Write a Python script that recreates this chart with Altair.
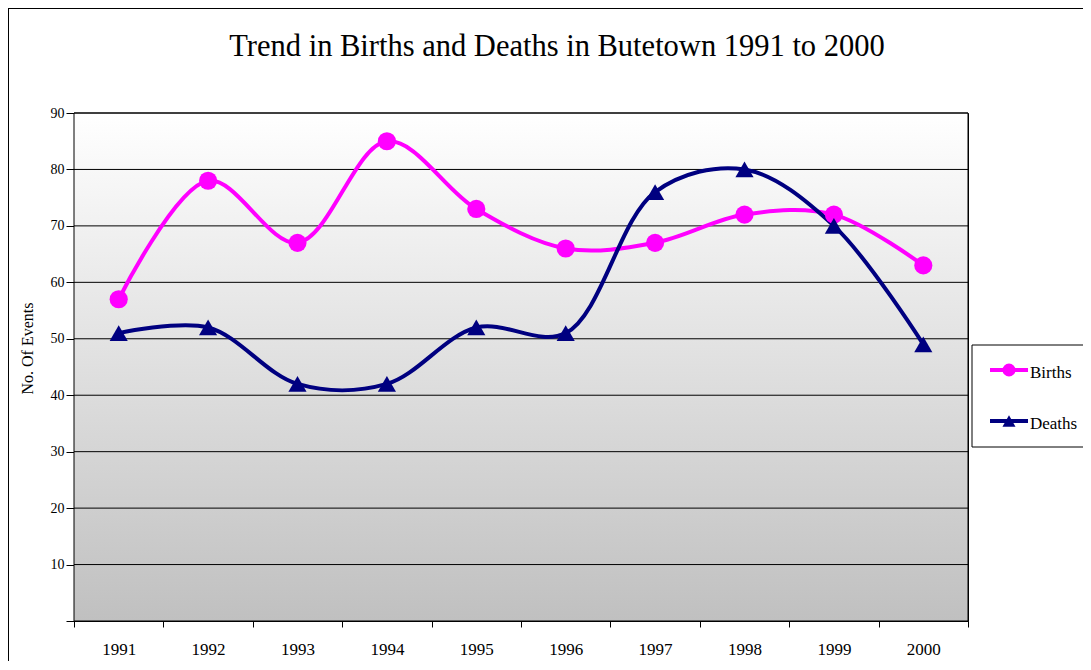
import altair as alt
import pandas as pd

# ---- data ----
years = ["1991", "1992", "1993", "1994", "1995", "1996", "1997", "1998", "1999", "2000"]
births = [57, 78, 67, 85, 73, 66, 67, 72, 72, 63]
deaths = [51, 52, 42, 42, 52, 51, 76, 80, 70, 49]
series_names = ["Births", "Deaths"]
series_colors = ["#FF00FF", "#000080"]
series_shapes = ["circle", "triangle-up"]
y_ticks = [0, 10, 20, 30, 40, 50, 60, 70, 80, 90]
grid_values = [10, 20, 30, 40, 50, 60, 70, 80, 90]
title_text = "Trend in Births and Deaths in Butetown 1991 to 2000"
y_title = "No. Of Events"

W, H = 894, 508
FONT = "Liberation Serif"

df = pd.DataFrame({
    "year": years * 2,
    "value": births + deaths,
    "series": [series_names[0]] * len(years) + [series_names[1]] * len(years),
})
one = pd.DataFrame({"k": [0]})
grid_df = pd.DataFrame({"v": grid_values})

x_enc = alt.X(
    "year:O",
    bandPosition=0.5,
    scale=alt.Scale(type="band", paddingInner=0, paddingOuter=0),
    axis=alt.Axis(
        title=None, tickBand="extent", labelAngle=0, labelFont=FONT,
        labelFontSize=17, labelColor="black", labelPadding=14,
        domainColor="black", tickColor="black", tickSize=6, grid=False,
    ),
)
y_enc = alt.Y(
    "value:Q",
    scale=alt.Scale(domain=[0, 90], nice=False, zero=True),
    axis=alt.Axis(
        values=y_ticks, grid=False, title=y_title,
        labelExpr="datum.value == 0 ? '' : datum.label",
        labelFont=FONT, labelFontSize=14, labelColor="black",
        labelPadding=2, tickSize=8, tickColor="black", domainColor="black",
        titleFont=FONT, titleFontSize=16, titleFontWeight="normal",
        titleColor="black", titleAngle=-90, titleX=-47, titleY=235,
        titleAlign="center", titleBaseline="middle",
    ),
)
color_enc = alt.Color("series:N", scale=alt.Scale(domain=series_names, range=series_colors), legend=None)
shape_enc = alt.Shape("series:N", scale=alt.Scale(domain=series_names, range=series_shapes), legend=None)

bg = alt.Chart(one).mark_rect(
    color=alt.Gradient(
        gradient="linear",
        stops=[alt.GradientStop(color="#ffffff", offset=0), alt.GradientStop(color="#c0c0c0", offset=1)],
        x1=0, x2=0, y1=0, y2=1,
    )
).encode(x=alt.value(0), x2=alt.value(W), y=alt.value(0), y2=alt.value(H))

grid = alt.Chart(grid_df).mark_rule(color="black", strokeWidth=1).encode(
    y=alt.Y("v:Q", scale=alt.Scale(domain=[0, 90], nice=False))
)

border = alt.Chart(one).mark_rect(filled=False, stroke="black", strokeWidth=1).encode(
    x=alt.value(0), x2=alt.value(W), y=alt.value(0), y2=alt.value(H)
)

lines = alt.Chart(df).mark_line(interpolate="catmull-rom", strokeWidth=4).encode(
    x=x_enc, y=y_enc, color=color_enc
)
points = alt.Chart(df).mark_point(filled=True, opacity=1, size=330).encode(
    x=x_enc, y=y_enc, color=color_enc, shape=shape_enc
)

# legend box
legend_layers = [
    alt.Chart(one).mark_rect(fill="white", stroke="black", strokeWidth=1).encode(
        x=alt.value(898), x2=alt.value(1030), y=alt.value(232), y2=alt.value(334)
    )
]
for i, name in enumerate(series_names):
    ypx = 257 + 51 * i
    legend_layers.append(
        alt.Chart(one).mark_rule(color=series_colors[i], strokeWidth=4).encode(
            x=alt.value(916), x2=alt.value(954), y=alt.value(ypx)
        )
    )
    legend_layers.append(
        alt.Chart(one).mark_point(filled=True, opacity=1, size=170, shape=series_shapes[i],
                                  color=series_colors[i]).encode(
            x=alt.value(935), y=alt.value(ypx)
        )
    )
    legend_layers.append(
        alt.Chart(one).mark_text(align="left", baseline="middle", font=FONT, fontSize=17,
                                 color="black").encode(
            x=alt.value(956), y=alt.value(ypx + 3), text=alt.value(name)
        )
    )

title = alt.Chart(one).mark_text(align="center", baseline="alphabetic", font=FONT,
                                 fontSize=30.5, color="black").encode(
    x=alt.value(483), y=alt.value(-57), text=alt.value(title_text)
)

frame = alt.Chart(one).mark_rect(filled=False, stroke="black", strokeWidth=2).encode(
    x=alt.value(-66), x2=alt.value(1040), y=alt.value(-105), y2=alt.value(580)
)

chart = alt.layer(bg, grid, border, lines, points, *legend_layers, title, frame).properties(
    width=W, height=H,
    autosize=alt.AutoSizeParams(type="none"),
    padding={"left": 66, "top": 105, "right": 115, "bottom": 40},
    background="white",
).configure_view(stroke="black", strokeWidth=1)

chart.save("out.html", embed_options={"renderer": "svg", "actions": False})
